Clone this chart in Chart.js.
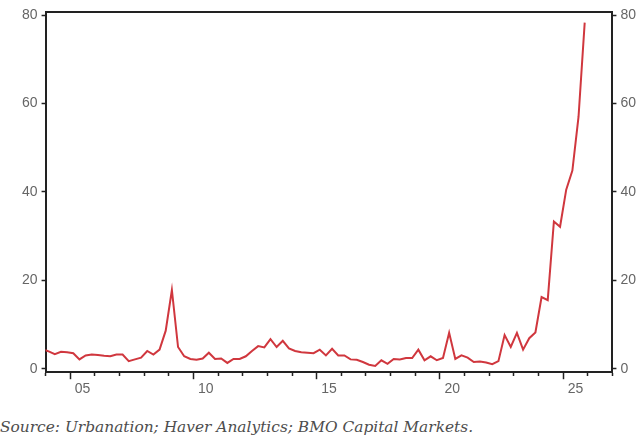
<!DOCTYPE html>
<html>
<head>
<meta charset="utf-8">
<script src="https://cdn.jsdelivr.net/npm/chart.js@4.4.1/dist/chart.umd.min.js"></script>
<style>
  body { margin: 0; background: #fff; }
  #wrap { position: relative; width: 640px; height: 444px; }
  #box { position: absolute; left: 0; top: 0; width: 640px; height: 400px; }
  #source {
    position: absolute; left: 0; top: 418px;
    font-family: "DejaVu Serif", serif; font-style: italic;
    font-size: 15.4px; color: #4d4d4d; white-space: nowrap;
  }
</style>
</head>
<body>
<div id="wrap">
  <div id="box"><canvas id="chart"></canvas></div>
  <div id="source">Source: Urbanation; Haver Analytics; BMO Capital Markets.</div>
</div>
<script>
// quarterly series, first value is 2003 Q4
var firstYear = 2003;
var firstQuarter = 4;
var values = [
  4.4,
  3.9, 3.3, 3.8, 3.7,   // 2004
  3.5, 2.1, 3.0, 3.2,   // 2005
  3.1, 2.9, 2.8, 3.2,   // 2006
  3.2, 1.7, 2.1, 2.5,   // 2007
  4.0, 3.2, 4.3, 8.6,   // 2008
  17.8, 4.9, 2.8, 2.2,  // 2009
  2.0, 2.3, 3.6, 2.2,   // 2010
  2.3, 1.3, 2.2, 2.2,   // 2011
  2.8, 4.0, 5.1, 4.8,   // 2012
  6.7, 4.9, 6.3, 4.6,   // 2013
  4.0, 3.7, 3.6, 3.5,   // 2014
  4.3, 3.0, 4.5, 3.0,   // 2015
  3.0, 2.1, 2.0, 1.5,   // 2016
  0.9, 0.6, 1.9, 1.1,   // 2017
  2.2, 2.1, 2.4, 2.4,   // 2018
  4.3, 1.9, 2.8, 1.9,   // 2019
  2.4, 8.1, 2.2, 3.0,   // 2020
  2.5, 1.5, 1.6, 1.4,   // 2021
  1.0, 1.7, 7.6, 4.9,   // 2022
  8.1, 4.3, 6.9, 8.2,   // 2023
  16.2, 15.5, 33.3, 32.1, // 2024
  40.5, 44.8, 57.0, 78.3  // 2025
];

var xMin = 2004, xMax = 2027;
var yMin = -0.8, yMax = 80.6;
var yTicks = [0, 20, 40, 60, 80];
var labelYears = [2005, 2010, 2015, 2020, 2025];
var tickLabels = ['05', '10', '15', '20', '25'];

var points = [];
for (var i = 0; i < values.length; i++) {
  var q = firstQuarter - 1 + i;
  var yr = firstYear + Math.floor(q / 4);
  // plot each quarter at its middle
  points.push({ x: yr + ((q % 4) + 0.5) / 4, y: values[i] });
}

var axisColor = '#222';
var labelFont = { family: 'Liberation Sans', size: 14 };

function yAxis(pos) {
  return {
    type: 'linear',
    position: pos,
    min: yMin,
    max: yMax,
    afterBuildTicks: function (axis) {
      axis.ticks = yTicks.map(function (v) { return { value: v }; });
    },
    ticks: { color: '#666', font: labelFont, padding: 4 },
    grid: { drawOnChartArea: false, tickLength: 4, tickColor: axisColor, tickWidth: 1.5 },
    border: { color: axisColor, width: 2 }
  };
}

new Chart(document.getElementById('chart'), {
  type: 'line',
  data: {
    datasets: [{
      data: points,
      borderColor: 'rgb(208, 55, 62)',
      borderWidth: 2,
      pointRadius: 0,
      tension: 0,
      fill: false,
      yAxisID: 'y'
    }]
  },
  options: {
    responsive: true,
    maintainAspectRatio: false,
    animation: false,
    layout: { padding: { left: 18, right: 0, top: 10, bottom: 0 } },
    plugins: { legend: { display: false }, tooltip: { enabled: false } },
    scales: {
      x: {
        type: 'linear',
        position: 'bottom',
        min: xMin,
        max: xMax,
        afterBuildTicks: function (axis) {
          var t = [];
          for (var yr = xMin; yr <= xMax; yr++) t.push({ value: yr });
          labelYears.forEach(function (yr) { t.push({ value: yr + 0.5 }); });
          t.sort(function (a, b) { return a.value - b.value; });
          axis.ticks = t;
        },
        ticks: {
          autoSkip: false,
          maxRotation: 0,
          color: '#666',
          font: labelFont,
          padding: 2,
          callback: function (v) {
            var k = labelYears.indexOf(v - 0.5);
            return k >= 0 ? tickLabels[k] : '';
          }
        },
        grid: {
          drawOnChartArea: false,
          tickLength: 7,
          tickWidth: 1.5,
          tickColor: function (ctx) {
            return ctx.tick && Number.isInteger(ctx.tick.value) ? axisColor : 'rgba(0,0,0,0)';
          },
          tickBorderDash: function (ctx) {
            return ctx.tick && ctx.tick.value % 5 === 0 ? [] : [3, 20];
          }
        },
        border: { color: axisColor, width: 2 }
      },
      xTop: {
        type: 'linear',
        position: 'top',
        min: xMin,
        max: xMax,
        ticks: { display: false },
        grid: { display: false, drawTicks: false },
        border: { color: axisColor, width: 2 }
      },
      y: yAxis('left'),
      y2: yAxis('right')
    }
  }
});
</script>
</body>
</html>
